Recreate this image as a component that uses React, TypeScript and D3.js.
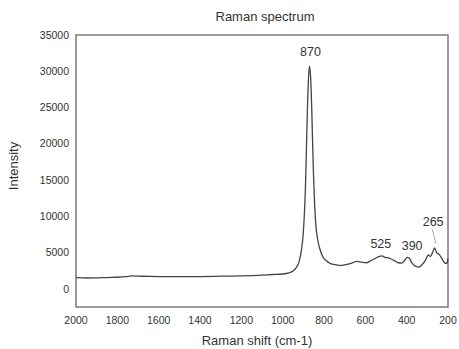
import React from 'react'
import * as d3 from 'd3'

// Raman shift (cm-1) and intensity
const shifts = [
  2000, 1950, 1900, 1850, 1800, 1760, 1730, 1700, 1650, 1600, 1500, 1400, 1300, 1200, 1100, 1050, 1000,
  970, 950, 935, 920, 910, 900, 895, 890, 885, 880, 875, 870, 865, 860, 855, 850, 845, 840, 830, 820,
  805, 790, 770, 740, 720, 700, 670, 640, 615, 595, 575, 555, 535, 520, 505, 485, 460, 440, 425, 410,
  398, 388, 375, 355, 340, 325, 310, 295, 285, 275, 265, 255, 245, 232, 220, 210, 204, 200,
]
const intensity = [
  1550, 1500, 1520, 1560, 1600, 1680, 1780, 1760, 1720, 1690, 1680, 1700, 1750, 1800, 1900, 1980, 2050,
  2200, 2450, 2900, 3800, 5200, 7800, 10300, 13800, 19300, 25000, 29000, 30700, 29300, 25500, 20000, 15000, 11500, 9000, 6700, 5500,
  4400, 3900, 3500, 3300, 3200, 3300, 3500, 3800, 3650, 3600, 3850, 4150, 4450, 4550, 4350, 4250, 3900, 3600, 3550, 3900,
  4350, 4250, 3600, 3100, 3000, 3350, 3900, 4700, 4450, 5000, 5650, 5000, 4800, 4300, 3700, 3500, 3600, 4200,
]
const xTicks = [2000, 1800, 1600, 1400, 1200, 1000, 800, 600, 400, 200]
const yTicks = [0, 5000, 10000, 15000, 20000, 25000, 30000, 35000]
const peakLabels = ['870', '525', '390', '265']
const peakShifts = [870, 520, 388, 272]
const peakValues = [30700, 4550, 4350, 5650]

export default function App() {
  const width = 459
  const height = 349
  const margin = { top: 35, right: 11, bottom: 42, left: 76 }
  const innerW = width - margin.left - margin.right
  const innerH = height - margin.top - margin.bottom

  const x = d3.scaleLinear().domain([2000, 200]).range([0, innerW])
  const y = d3.scaleLinear().domain([-2500, 35000]).range([innerH, 0])

  const data = shifts.map((s, i) => ({ s, v: intensity[i] }))
  const line = d3.line<{ s: number; v: number }>()
    .x(d => x(d.s))
    .y(d => y(d.v))
    .curve(d3.curveMonotoneX)

  const font = 'Liberation Sans, Arial, sans-serif'
  const textColor = '#333'

  // label offsets above each peak (pixels)
  const labelDy = [-10, -8, -7, -22]
  const labelDx = [1, -1, 3, 0]

  return (
    <svg width={width} height={height} style={{ position: 'absolute', left: 0, top: 0, background: '#fff' }}>
      <text x={265} y={21} textAnchor="middle" fontFamily={font} fontSize={13} fill={textColor}>
        Raman spectrum
      </text>
      <g transform={`translate(${margin.left},${margin.top})`}>
        <rect x={0} y={0} width={innerW} height={innerH} fill="none" stroke="#7a7a7a" strokeWidth={1.5} />
        {yTicks.map(t => (
          <text key={t} x={-7} y={y(t)} dy="0.35em" textAnchor="end" fontFamily={font} fontSize={10.5} fill={textColor}>
            {t}
          </text>
        ))}
        {xTicks.map(t => (
          <text key={t} x={x(t)} y={innerH + 17} textAnchor="middle" fontFamily={font} fontSize={10.5} fill={textColor}>
            {t}
          </text>
        ))}
        <path d={line(data) || ''} fill="none" stroke="#444" strokeWidth={1.3} />
        {peakLabels.map((l, i) => (
          <text
            key={l}
            x={x(peakShifts[i]) + labelDx[i]}
            y={y(peakValues[i]) + labelDy[i]}
            textAnchor="middle"
            fontFamily={font}
            fontSize={12.5}
            fill={textColor}
          >
            {l}
          </text>
        ))}
        <line
          x1={x(peakShifts[3]) - 1}
          y1={y(peakValues[3]) - 19}
          x2={x(peakShifts[3]) + 3}
          y2={y(peakValues[3]) - 4}
          stroke="#999"
          strokeWidth={0.8}
        />
        <text x={innerW / 2 - 5} y={innerH + 38} textAnchor="middle" fontFamily={font} fontSize={13} fill={textColor}>
          Raman shift (cm-1)
        </text>
        <text
          transform={`translate(${-58},${innerH / 2 - 5}) rotate(-90)`}
          textAnchor="middle"
          fontFamily={font}
          fontSize={13}
          fill={textColor}
        >
          Intensity
        </text>
      </g>
    </svg>
  )
}
